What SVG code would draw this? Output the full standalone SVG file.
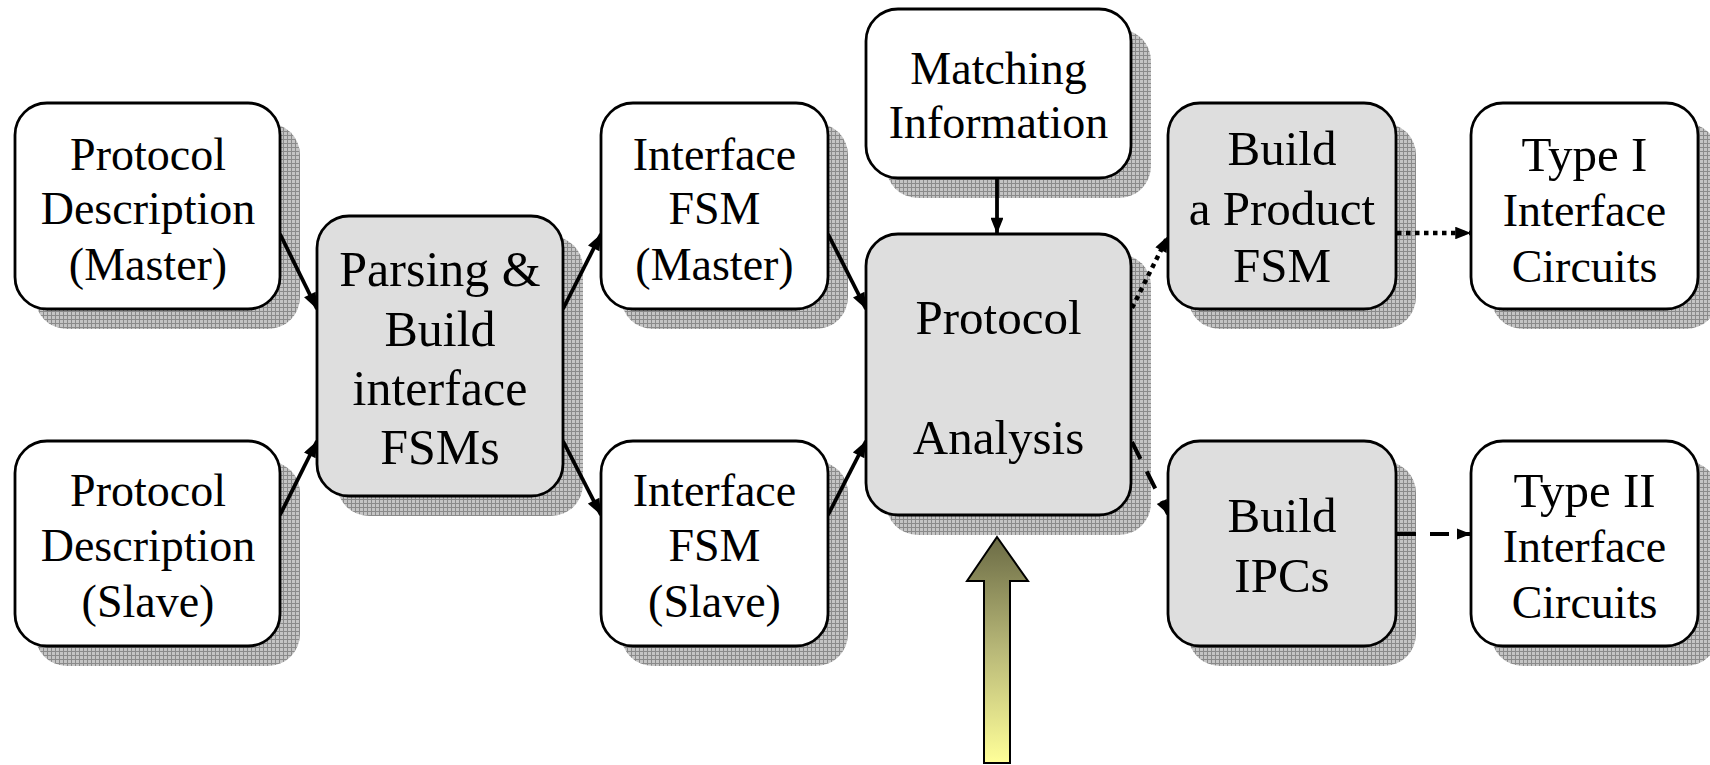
<svg xmlns="http://www.w3.org/2000/svg" width="1710" height="765" viewBox="0 0 1710 765" font-family="'Liberation Serif', 'DejaVu Serif', serif">
  <defs>
    <!-- cross-hatched drop shadow -->
    <pattern id="grid" width="4" height="4" patternUnits="userSpaceOnUse">
      <rect width="4" height="4" fill="#c4c4c4"/>
      <path d="M3.5 0V4M0 3.5H4" stroke="#8a8a8a" stroke-width="1"/>
    </pattern>
    <linearGradient id="yellow" x1="0" y1="0" x2="0" y2="1">
      <stop offset="0" stop-color="#6b6b45"/>
      <stop offset="0.5" stop-color="#b8b878"/>
      <stop offset="1" stop-color="#ffff99"/>
    </linearGradient>
    <marker id="ah" viewBox="0 0 10 8" refX="10" refY="4" markerWidth="4.6" markerHeight="3.4" orient="auto" markerUnits="strokeWidth">
      <path d="M0 0L10 4L0 8z" fill="#000"/>
    </marker>
    <marker id="ahs" viewBox="0 0 10 8" refX="10" refY="4" markerWidth="3.8" markerHeight="2.8" orient="auto" markerUnits="strokeWidth">
      <path d="M0 0L10 4L0 8z" fill="#000"/>
    </marker>
  </defs>
  <style>
    .shadow { fill: url(#grid); }
    .box { fill: #ffffff; stroke: #000; stroke-width: 2.8; }
    .gbox { fill: #dedede; stroke: #000; stroke-width: 2.8; }
    text { font-family: 'Liberation Serif', 'DejaVu Serif', serif; text-anchor: middle; fill: #000; }
    .t46 { font-size: 46px; }
    .t49 { font-size: 49px; }
    .t50 { font-size: 50px; }
    .conn { fill: none; stroke: #000; stroke-width: 3.8; marker-end: url(#ah); }
    .dot { fill: none; stroke: #000; stroke-width: 4.5; stroke-dasharray: 4.5 4.5; marker-end: url(#ahs); }
    .dash { fill: none; stroke: #000; stroke-width: 4; stroke-dasharray: 19 14; marker-end: url(#ahs); }
  </style>

  <!-- shadows -->
  <g id="shadows">
    <rect class="shadow" x="35" y="123" width="265" height="206" rx="32"/>
    <rect class="shadow" x="35" y="461" width="265" height="205" rx="32"/>
    <rect class="shadow" x="337" y="236" width="246" height="280" rx="32"/>
    <rect class="shadow" x="621" y="123" width="227" height="206" rx="32"/>
    <rect class="shadow" x="621" y="461" width="227" height="205" rx="32"/>
    <rect class="shadow" x="886" y="29" width="265" height="169" rx="32"/>
    <rect class="shadow" x="886" y="254" width="265" height="281" rx="32"/>
    <rect class="shadow" x="1188" y="123" width="228" height="206" rx="32"/>
    <rect class="shadow" x="1188" y="461" width="228" height="205" rx="32"/>
    <rect class="shadow" x="1491" y="123" width="227" height="206" rx="32"/>
    <rect class="shadow" x="1491" y="461" width="227" height="205" rx="32"/>
  </g>

  <!-- connectors -->
  <g id="connectors">
    <path class="conn" d="M280 234L317 309"/>
    <path class="conn" d="M280 515L317 441"/>
    <path class="conn" d="M563 309L601 234"/>
    <path class="conn" d="M563 441L601 515"/>
    <path class="conn" d="M828 234L866 309"/>
    <path class="conn" d="M828 515L866 441"/>
    <path class="conn" d="M997 178L997 234"/>
    <path class="dot" d="M1132 308L1168 236"/>
    <path class="dash" d="M1132 442L1168 514"/>
    <path class="dot" d="M1397 233L1471 233"/>
    <path class="dash" d="M1397 534L1471 534"/>
  </g>

  <g id="protocol-desc-master">
    <rect class="box" x="15" y="103" width="265" height="206" rx="32"/>
    <text class="t46" x="148" y="170">Protocol</text>
    <text class="t46" x="148" y="224">Description</text>
    <text class="t46" x="148" y="280">(Master)</text>
  </g>

  <g id="protocol-desc-slave">
    <rect class="box" x="15" y="441" width="265" height="205" rx="32"/>
    <text class="t46" x="148" y="506">Protocol</text>
    <text class="t46" x="148" y="561">Description</text>
    <text class="t46" x="148" y="617">(Slave)</text>
  </g>

  <g id="parsing">
    <rect class="gbox" x="317" y="216" width="246" height="280" rx="32"/>
    <text class="t50" x="440" y="286">Parsing &amp;</text>
    <text class="t50" x="440" y="346">Build</text>
    <text class="t50" x="440" y="405">interface</text>
    <text class="t50" x="440" y="464">FSMs</text>
  </g>

  <g id="interface-fsm-master">
    <rect class="box" x="601" y="103" width="227" height="206" rx="32"/>
    <text class="t46" x="714.5" y="170">Interface</text>
    <text class="t46" x="714.5" y="224">FSM</text>
    <text class="t46" x="714.5" y="280">(Master)</text>
  </g>

  <g id="interface-fsm-slave">
    <rect class="box" x="601" y="441" width="227" height="205" rx="32"/>
    <text class="t46" x="714.5" y="506">Interface</text>
    <text class="t46" x="714.5" y="561">FSM</text>
    <text class="t46" x="714.5" y="617">(Slave)</text>
  </g>

  <g id="matching-information">
    <rect class="box" x="866" y="9" width="265" height="169" rx="32"/>
    <text class="t46" x="998.5" y="84">Matching</text>
    <text class="t46" x="998.5" y="138">Information</text>
  </g>

  <g id="protocol-analysis">
    <rect class="gbox" x="866" y="234" width="265" height="281" rx="32"/>
    <text class="t49" x="998.5" y="334">Protocol</text>
    <text class="t49" x="998.5" y="454">Analysis</text>
  </g>

  <g id="build-product-fsm">
    <rect class="gbox" x="1168" y="103" width="228" height="206" rx="32"/>
    <text class="t49" x="1282" y="165">Build</text>
    <text class="t49" x="1282" y="225">a Product</text>
    <text class="t49" x="1282" y="282">FSM</text>
  </g>

  <g id="build-ipcs">
    <rect class="gbox" x="1168" y="441" width="228" height="205" rx="32"/>
    <text class="t49" x="1282" y="532">Build</text>
    <text class="t49" x="1282" y="592">IPCs</text>
  </g>

  <g id="type1-circuits">
    <rect class="box" x="1471" y="103" width="227" height="206" rx="32"/>
    <text class="t49" x="1584.5" y="171">Type I</text>
    <text class="t46" x="1584.5" y="226">Interface</text>
    <text class="t46" x="1584.5" y="282">Circuits</text>
  </g>

  <g id="type2-circuits">
    <rect class="box" x="1471" y="441" width="227" height="205" rx="32"/>
    <text class="t49" x="1584.5" y="507">Type II</text>
    <text class="t46" x="1584.5" y="562">Interface</text>
    <text class="t46" x="1584.5" y="618">Circuits</text>
  </g>

  <!-- block arrow entering Protocol Analysis from below -->
  <g id="input-arrow">
    <path d="M997 537L1028 581L1010 581L1010 763L984 763L984 581L967 581Z" fill="url(#yellow)" stroke="#000" stroke-width="2"/>
  </g>
</svg>
